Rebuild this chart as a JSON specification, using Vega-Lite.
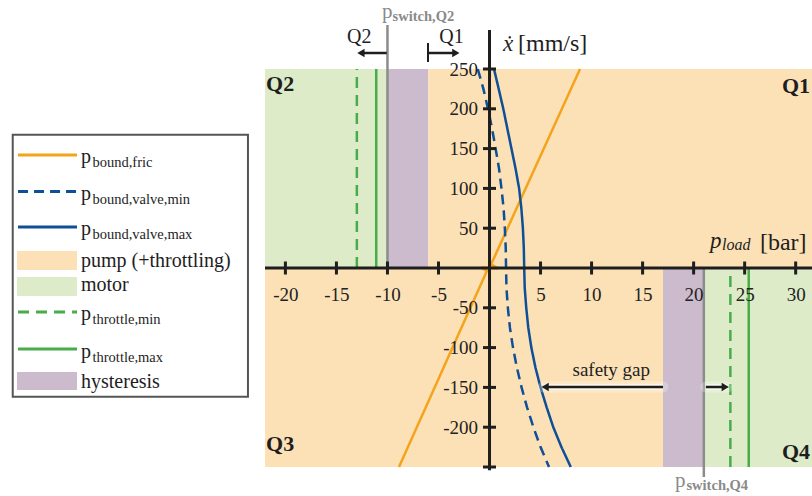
{
  "$schema": "https://vega.github.io/schema/vega-lite/v6.json",
  "width": 547,
  "height": 398,
  "autosize": {"type": "none"},
  "padding": {"left": 265, "top": 69, "right": 0, "bottom": 29},
  "background": "white",
  "config": {"view": {"stroke": null}, "font": "Liberation Serif"},
  "encoding": {
    "x": {"field": "x", "type": "quantitative",
      "scale": {"domain": [-22, 31.6], "nice": false, "zero": false},
      "axis": {"orient": "bottom", "offset": -199, "values": [-20, -15, -10, -5, 5, 10, 15, 20, 25, 30],
        "labelExpr": "'' + datum.value",
        "domain": false, "ticks": false, "grid": false, "labelFont": "Liberation Serif", "labelFontSize": 19,
        "labelColor": "#222222", "labelPadding": 17, "title": null, "zindex": 1, "labelFlush": false, "labelOverlap": false}},
    "y": {"field": "y", "type": "quantitative",
      "scale": {"domain": [-250, 250], "nice": false, "zero": false},
      "axis": {"orient": "left", "offset": -224.5, "values": [250, 200, 150, 100, 50, -50, -100, -150, -200],
        "labelExpr": "'' + datum.value",
        "domain": false, "ticks": false, "grid": false, "labelFont": "Liberation Serif", "labelFontSize": 19,
        "labelColor": "#222222", "labelPadding": 12, "title": null, "zindex": 1, "labelFlush": false, "labelOverlap": false}}
  },
  "layer": [
    {
      "data": {"values": [
        {"x": -22, "x2": -10, "y": 0, "y2": 250, "k": "motor"},
        {"x": -10, "x2": -6, "y": 0, "y2": 250, "k": "hysteresis"},
        {"x": -6, "x2": 31.6, "y": 0, "y2": 250, "k": "pump"},
        {"x": -22, "x2": 17, "y": -250, "y2": 0, "k": "pump"},
        {"x": 17, "x2": 21, "y": -250, "y2": 0, "k": "hysteresis"},
        {"x": 21, "x2": 31.6, "y": -250, "y2": 0, "k": "motor"}
      ]},
      "mark": {"type": "rect"},
      "encoding": {
        "x2": {"field": "x2"}, "y2": {"field": "y2"},
        "color": {"field": "k", "type": "nominal", "legend": null,
          "scale": {"domain": ["fric", "vmin", "vmax", "tmin", "tmax", "pump", "motor", "hysteresis"],
            "range": ["#F5A31B", "#0E4F97", "#0E4F97", "#48AC4B", "#48AC4B", "#FCE1B7", "#DDEBC9", "#CBBBCC"]}}
      }
    },
    {
      "data": {"values": [
        {"x": -10, "y": 0, "y2": 305.3},
        {"x": 21, "y": 0, "y2": -262.6}
      ]},
      "mark": {"type": "rule", "color": "#8C8C8C", "strokeWidth": 2.5},
      "encoding": {"y2": {"field": "y2"}}
    },
    {
      "data": {"values": [
        {"x": -13, "y": 0, "y2": 250, "k": "tmin"},
        {"x": -11.1, "y": 0, "y2": 250, "k": "tmax"},
        {"x": 23.6, "y": -250, "y2": 0, "k": "tmin"},
        {"x": 25.4, "y": -250, "y2": 0, "k": "tmax"}
      ]},
      "mark": {"type": "rule", "strokeWidth": 2.5},
      "encoding": {
        "y2": {"field": "y2"},
        "color": {"field": "k", "type": "nominal", "legend": null},
        "strokeDash": {"field": "k", "type": "nominal", "legend": null,
          "scale": {"domain": ["fric", "vmin", "vmax", "tmin", "tmax"], "range": [[1, 0], [10, 6], [1, 0], [11, 7], [1, 0]]}}
      }
    },
    {
      "data": {"values": [
        {"k": "fric", "i": 0, "x": -8.87, "y": -250},
        {"k": "fric", "i": 1, "x": -0.25, "y": -3.5},
        {"k": "fric", "i": 2, "x": -0.8, "y": 0.5},
        {"k": "fric", "i": 3, "x": 0.85, "y": -0.5},
        {"k": "fric", "i": 4, "x": 0.15, "y": 4.5},
        {"k": "fric", "i": 5, "x": 8.87, "y": 250},
        {"k": "vmin", "i": 0, "x": -1.15, "y": 250},
        {"k": "vmin", "i": 1, "x": -0.6, "y": 225},
        {"k": "vmin", "i": 2, "x": -0.15, "y": 200},
        {"k": "vmin", "i": 3, "x": 0.25, "y": 175},
        {"k": "vmin", "i": 4, "x": 0.6, "y": 150},
        {"k": "vmin", "i": 5, "x": 0.93, "y": 125},
        {"k": "vmin", "i": 6, "x": 1.17, "y": 100},
        {"k": "vmin", "i": 7, "x": 1.38, "y": 75},
        {"k": "vmin", "i": 8, "x": 1.5, "y": 50},
        {"k": "vmin", "i": 9, "x": 1.59, "y": 25},
        {"k": "vmin", "i": 10, "x": 1.62, "y": 0},
        {"k": "vmin", "i": 11, "x": 1.66, "y": -25},
        {"k": "vmin", "i": 12, "x": 1.8, "y": -50},
        {"k": "vmin", "i": 13, "x": 2.0, "y": -75},
        {"k": "vmin", "i": 14, "x": 2.3, "y": -100},
        {"k": "vmin", "i": 15, "x": 2.68, "y": -125},
        {"k": "vmin", "i": 16, "x": 3.14, "y": -150},
        {"k": "vmin", "i": 17, "x": 3.68, "y": -175},
        {"k": "vmin", "i": 18, "x": 4.3, "y": -200},
        {"k": "vmin", "i": 19, "x": 5.0, "y": -225},
        {"k": "vmin", "i": 20, "x": 5.83, "y": -250},
        {"k": "vmax", "i": 0, "x": 0.44, "y": 250},
        {"k": "vmax", "i": 1, "x": 0.9, "y": 225},
        {"k": "vmax", "i": 2, "x": 1.35, "y": 200},
        {"k": "vmax", "i": 3, "x": 1.75, "y": 175},
        {"k": "vmax", "i": 4, "x": 2.15, "y": 150},
        {"k": "vmax", "i": 5, "x": 2.55, "y": 125},
        {"k": "vmax", "i": 6, "x": 2.9, "y": 100},
        {"k": "vmax", "i": 7, "x": 3.12, "y": 75},
        {"k": "vmax", "i": 8, "x": 3.27, "y": 50},
        {"k": "vmax", "i": 9, "x": 3.36, "y": 25},
        {"k": "vmax", "i": 10, "x": 3.4, "y": 0},
        {"k": "vmax", "i": 11, "x": 3.45, "y": -25},
        {"k": "vmax", "i": 12, "x": 3.6, "y": -50},
        {"k": "vmax", "i": 13, "x": 3.8, "y": -75},
        {"k": "vmax", "i": 14, "x": 4.1, "y": -100},
        {"k": "vmax", "i": 15, "x": 4.5, "y": -125},
        {"k": "vmax", "i": 16, "x": 5.0, "y": -150},
        {"k": "vmax", "i": 17, "x": 5.6, "y": -175},
        {"k": "vmax", "i": 18, "x": 6.25, "y": -200},
        {"k": "vmax", "i": 19, "x": 7.05, "y": -225},
        {"k": "vmax", "i": 20, "x": 7.96, "y": -250}
      ]},
      "mark": {"type": "line", "strokeWidth": 2.5},
      "encoding": {
        "order": {"field": "i", "type": "quantitative"},
        "color": {"field": "k", "type": "nominal", "legend": null},
        "strokeDash": {"field": "k", "type": "nominal", "legend": null}
      }
    },
    {
      "data": {"values": [{"x": -22, "x2": 31.6, "y": 0}]},
      "mark": {"type": "rule", "color": "#1E1E1E", "strokeWidth": 3},
      "encoding": {"x2": {"field": "x2"}}
    },
    {
      "data": {"values": [{"x": 0, "y": -254, "y2": 299}]},
      "mark": {"type": "rule", "color": "#1E1E1E", "strokeWidth": 3},
      "encoding": {"y2": {"field": "y2"}}
    },
    {
      "data": {"values": [
        {"x": -20, "y": 0}, {"x": -15, "y": 0}, {"x": -10, "y": 0}, {"x": -5, "y": 0},
        {"x": 5, "y": 0}, {"x": 10, "y": 0}, {"x": 15, "y": 0}, {"x": 20, "y": 0},
        {"x": 25, "y": 0}, {"x": 30, "y": 0}
      ]},
      "mark": {"type": "tick", "orient": "vertical", "color": "#1E1E1E", "size": 13, "thickness": 3, "opacity": 1}
    },
    {
      "data": {"values": [
        {"x": 0, "y": 250}, {"x": 0, "y": 200}, {"x": 0, "y": 150}, {"x": 0, "y": 100}, {"x": 0, "y": 50},
        {"x": 0, "y": -50}, {"x": 0, "y": -100}, {"x": 0, "y": -150}, {"x": 0, "y": -200}, {"x": 0, "y": -250}
      ]},
      "mark": {"type": "tick", "orient": "horizontal", "color": "#1E1E1E", "size": 13, "thickness": 3, "opacity": 1}
    },
    {
      "data": {"values": [
        {"x": 17, "x2": 5.3, "y": -149.5},
        {"x": 21.2, "x2": 23.3, "y": -149.5}
      ]},
      "mark": {"type": "rule", "color": "white", "strokeWidth": 11, "opacity": 0.25, "strokeCap": "round"},
      "encoding": {"x2": {"field": "x2"}}
    },
    {
      "data": {"values": [
        {"x": 17, "x2": 5.3, "y": -149.5},
        {"x": 21.2, "x2": 23.3, "y": -149.5}
      ]},
      "mark": {"type": "rule", "color": "white", "strokeWidth": 6, "opacity": 0.5, "strokeCap": "butt"},
      "encoding": {"x2": {"field": "x2"}}
    },
    {
      "data": {"values": [
        {"x": -10.07, "x2": -12.6, "y": 270.1},
        {"x": -6.03, "x2": -3.3, "y": 270.1},
        {"x": 17, "x2": 5.45, "y": -149.5},
        {"x": 21.2, "x2": 23.1, "y": -149.5}
      ]},
      "mark": {"type": "rule", "color": "#1E1E1E", "strokeWidth": 2.5},
      "encoding": {"x2": {"field": "x2"}}
    },
    {
      "data": {"values": [{"x": -6.03, "y": 258.8, "y2": 282.7}]},
      "mark": {"type": "rule", "color": "#1E1E1E", "strokeWidth": 2},
      "encoding": {"y2": {"field": "y2"}}
    },
    {
      "data": {"values": [
        {"x": -12.6, "y": 270.1, "s": "triangle-left"},
        {"x": -3.3, "y": 270.1, "s": "triangle-right"},
        {"x": 5.45, "y": -149.5, "s": "triangle-left"},
        {"x": 23.1, "y": -149.5, "s": "triangle-right"}
      ]},
      "mark": {"type": "point", "filled": true, "color": "#1E1E1E", "size": 70, "opacity": 1},
      "encoding": {"shape": {"field": "s", "type": "nominal", "scale": null}}
    },
    {
      "data": {"values": [
        {"x": -12.76, "y": 282.3, "t": "Q2"},
        {"x": -3.72, "y": 282.3, "t": "Q1"}
      ]},
      "mark": {"type": "text", "font": "Liberation Serif", "fontSize": 20, "color": "#1E1E1E", "align": "center", "baseline": "alphabetic"},
      "encoding": {"text": {"field": "t"}}
    },
    {
      "data": {"values": [{"x": 11.93, "y": -135.7, "t": "safety gap"}]},
      "mark": {"type": "text", "font": "Liberation Serif", "fontSize": 19, "color": "#1E1E1E", "align": "center", "baseline": "alphabetic"},
      "encoding": {"text": {"field": "t"}}
    },
    {
      "data": {"values": [
        {"x": -21.9, "y": 222.4, "t": "Q2"},
        {"x": 28.66, "y": 219.8, "t": "Q1"},
        {"x": -21.9, "y": -229.9, "t": "Q3"},
        {"x": 28.66, "y": -239.9, "t": "Q4"}
      ]},
      "mark": {"type": "text", "font": "Liberation Serif", "fontSize": 22, "fontWeight": "bold", "color": "#1E1E1E", "align": "left", "baseline": "alphabetic"},
      "encoding": {"text": {"field": "t"}}
    },
    {
      "data": {"values": [
        {"x": -10.53, "y": 313.5, "t": "p"},
        {"x": 18.18, "y": -275.1, "t": "p"}
      ]},
      "mark": {"type": "text", "font": "Liberation Serif", "fontSize": 21, "color": "#8A8A8A", "align": "left", "baseline": "alphabetic"},
      "encoding": {"text": {"field": "t"}}
    },
    {
      "data": {"values": [
        {"x": -9.5, "y": 310.5, "t": "switch,Q2"},
        {"x": 19.3, "y": -278.9, "t": "switch,Q4"}
      ]},
      "mark": {"type": "text", "font": "Liberation Serif", "fontSize": 14.5, "fontWeight": "bold", "color": "#8A8A8A", "align": "left", "baseline": "alphabetic"},
      "encoding": {"text": {"field": "t"}}
    },
    {
      "data": {"values": [
        {"x": 1.32, "y": 272.6, "t": "ẋ"},
        {"x": 21.6, "y": 25.1, "t": "p"}
      ]},
      "mark": {"type": "text", "font": "Liberation Serif", "fontSize": 23, "fontStyle": "italic", "color": "#1E1E1E", "align": "left", "baseline": "alphabetic"},
      "encoding": {"text": {"field": "t"}}
    },
    {
      "data": {"values": [
        {"x": 2.79, "y": 272.6, "t": "[mm/s]"},
        {"x": 26.5, "y": 22.6, "t": "[bar]"}
      ]},
      "mark": {"type": "text", "font": "Liberation Serif", "fontSize": 24, "color": "#1E1E1E", "align": "left", "baseline": "alphabetic"},
      "encoding": {"text": {"field": "t"}}
    },
    {
      "data": {"values": [{"x": 22.78, "y": 22.6, "t": "load"}]},
      "mark": {"type": "text", "font": "Liberation Serif", "fontSize": 16, "fontStyle": "italic", "color": "#1E1E1E", "align": "left", "baseline": "alphabetic"},
      "encoding": {"text": {"field": "t"}}
    },
    {
      "data": {"values": [{"x": -46.72, "x2": -23.67, "y": 167.5, "y2": -161.7}]},
      "mark": {"type": "rect", "fill": "white", "stroke": "#555555", "strokeWidth": 2},
      "encoding": {"x2": {"field": "x2"}, "y2": {"field": "y2"}}
    },
    {
      "data": {"values": [
        {"k": "pump", "x": -46.3, "x2": -40.42, "y": 21.4, "y2": -2.5},
        {"k": "motor", "x": -46.3, "x2": -40.42, "y": -11.3, "y2": -35.2},
        {"k": "hysteresis", "x": -46.3, "x2": -40.42, "y": -130.7, "y2": -153.3}
      ]},
      "mark": {"type": "rect"},
      "encoding": {"x2": {"field": "x2"}, "y2": {"field": "y2"},
        "color": {"field": "k", "type": "nominal", "legend": null}}
    },
    {
      "data": {"values": [
        {"k": "fric", "x": -46.2, "x2": -40.42, "y": 142.0},
        {"k": "vmin", "x": -46.2, "x2": -40.42, "y": 96.0},
        {"k": "vmax", "x": -46.2, "x2": -40.42, "y": 51.5},
        {"k": "tmin", "x": -46.2, "x2": -40.42, "y": -55.3},
        {"k": "tmax", "x": -46.2, "x2": -40.42, "y": -101.8}
      ]},
      "mark": {"type": "rule", "strokeWidth": 3},
      "encoding": {"x2": {"field": "x2"},
        "color": {"field": "k", "type": "nominal", "legend": null},
        "strokeDash": {"field": "k", "type": "nominal", "legend": null}}
    },
    {
      "data": {"values": [
        {"x": -40.03, "y": 131.5, "t": "p", "s": "bound,fric"},
        {"x": -40.03, "y": 85.4, "t": "p", "s": "bound,valve,min"},
        {"x": -40.03, "y": 41.5, "t": "p", "s": "bound,valve,max"},
        {"x": -40.03, "y": 1.6, "t": "pump (+throttling)", "s": ""},
        {"x": -40.03, "y": -28.9, "t": "motor", "s": ""},
        {"x": -40.03, "y": -65.3, "t": "p", "s": "throttle,min"},
        {"x": -40.03, "y": -113.4, "t": "p", "s": "throttle,max"},
        {"x": -40.03, "y": -150.4, "t": "hysteresis", "s": ""}
      ]},
      "layer": [
        {
          "mark": {"type": "text", "font": "Liberation Serif", "fontSize": 20, "color": "#1E1E1E", "align": "left", "baseline": "alphabetic"},
          "encoding": {"text": {"field": "t"}}
        },
        {
          "mark": {"type": "text", "font": "Liberation Serif", "fontSize": 14.5, "color": "#1E1E1E", "align": "left", "baseline": "alphabetic", "dx": 11.5, "dy": 4},
          "encoding": {"text": {"field": "s"}}
        }
      ]
    }
  ]
}
